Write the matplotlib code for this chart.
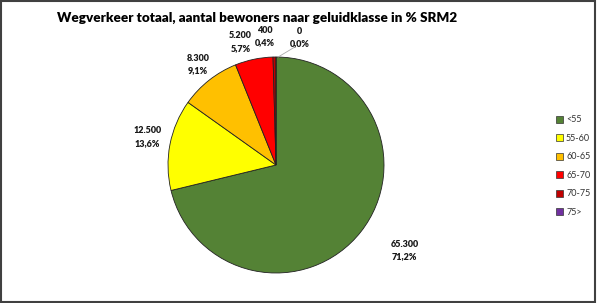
import matplotlib
matplotlib.use("Agg")
import matplotlib.pyplot as plt
from matplotlib.patches import Rectangle, Patch

categories = ["<55", "55-60", "60-65", "65-70", "70-75", "75>"]
values = [65300, 12500, 8300, 5200, 400, 0]
colors = ["#548235", "#FFFF00", "#FFC000", "#FF0000", "#C00000", "#7030A0"]
title = "Wegverkeer totaal, aantal bewoners naar geluidklasse in % SRM2"

total = sum(values)

def fmt_val(v):
    return f"{v:,}".replace(",", ".")

def fmt_pct(v):
    return f"{100 * v / total:.1f}%".replace(".", ",")

W, H = 597, 303
fig = plt.figure(figsize=(W / 100, H / 100), dpi=100)
fig.patch.set_facecolor("white")

cx, cy, r = 276, 165, 108
ax = fig.add_axes([(cx - r) / W, (H - cy - r) / H, 2 * r / W, 2 * r / H])
wedges, _ = ax.pie(values, colors=colors, startangle=90, counterclock=False,
                   radius=1, wedgeprops=dict(edgecolor="#222222", linewidth=0.6))
ax.set_xlim(-1, 1)
ax.set_ylim(-1, 1)
ax.set_aspect("auto")
ax.axis("off")

label_pos = [(1.19, -0.79), (-1.19, 0.26), (-0.72, 0.93), (-0.33, 1.14), (-0.10, 1.19), (0.22, 1.18)]
for v, (lx, ly) in zip(values, label_pos):
    ax.text(lx, ly, f"{fmt_val(v)}\n{fmt_pct(v)}", ha="center", va="center",
            fontsize=6.5, fontweight="heavy", family="Lato", color="#1a1a1a",
            linespacing=1.5, clip_on=False)
# leader line for the 0 label
ax.plot([0.02, 0.17], [1.0, 1.09], color="#aaaaaa", lw=0.6, clip_on=False)

fig.text(257 / W, 1 - 18 / H, title, ha="center", va="center", fontsize=9.7,
         fontweight="heavy", family="Lato", color="black")

handles = [Patch(facecolor=c, edgecolor="#333333", linewidth=0.5) for c in colors]
leg = fig.legend(handles, categories, loc="center left", bbox_to_anchor=(548 / W, 1 - 166 / H),
                 frameon=False, handlelength=0.8, handleheight=0.8,
                 handletextpad=0.3, labelspacing=1.05, prop={"family": "Lato", "size": 6.5})
for t in leg.get_texts():
    t.set_color("#333333")

fig.add_artist(Rectangle((0.002, 0.003), 0.995, 0.993, transform=fig.transFigure,
                         fill=False, edgecolor="#404040", linewidth=1.5))

fig.savefig("out.png", dpi=100)
